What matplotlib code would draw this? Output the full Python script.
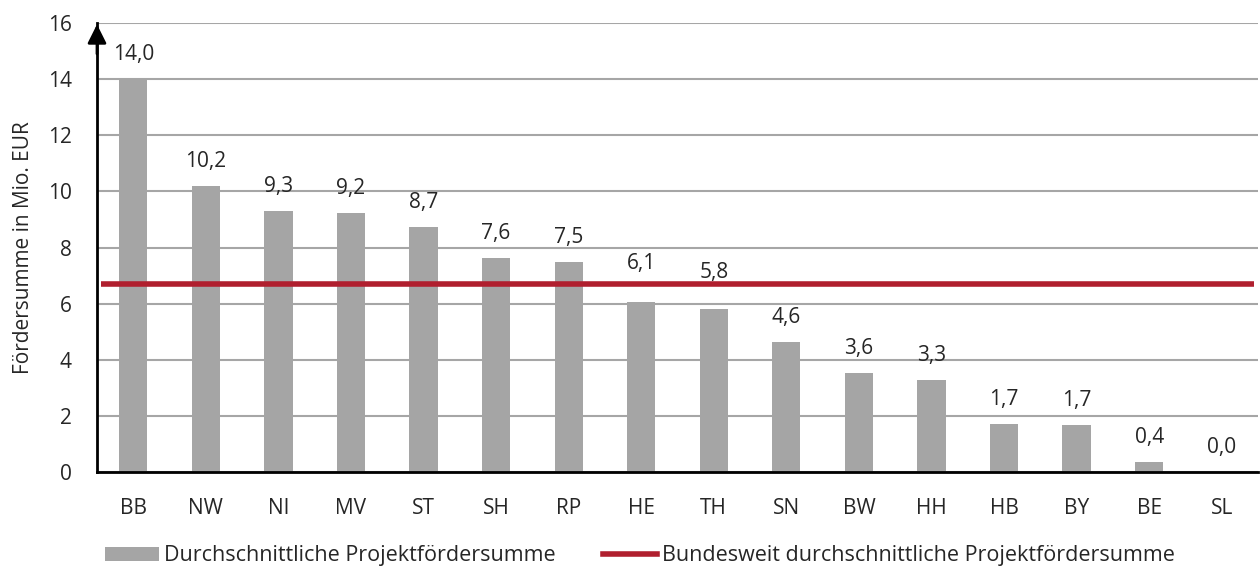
import matplotlib
matplotlib.use("Agg")
import matplotlib.pyplot as plt
from matplotlib.patches import Patch
from matplotlib.lines import Line2D

categories = ["BB", "NW", "NI", "MV", "ST", "SH", "RP", "HE", "TH", "SN", "BW", "HH", "HB", "BY", "BE", "SL"]
values = [14.0, 10.19, 9.3, 9.23, 8.73, 7.63, 7.48, 6.06, 5.81, 4.63, 3.53, 3.28, 1.71, 1.67, 0.36, 0.0]
labels = ["14,0", "10,2", "9,3", "9,2", "8,7", "7,6", "7,5", "6,1", "5,8", "4,6", "3,6", "3,3", "1,7", "1,7", "0,4", "0,0"]
mean_value = 6.69
yticks = [0, 2, 4, 6, 8, 10, 12, 14, 16]

plt.rcParams['font.family'] = ['Open Sans', 'DejaVu Sans']
TXT = '#262626'
FS = 15

fig = plt.figure(figsize=(12.6, 5.74), dpi=100)
ax = fig.add_axes([97/1260, 1 - 472/574, (1258-97)/1260, (472-23)/574])

x = list(range(len(categories)))
ax.bar(x, values, width=0.39, color='#a5a5a5', zorder=2)
ax.plot([-0.45, len(categories) - 0.55], [mean_value, mean_value], color='#b01f2e', lw=4, zorder=3, solid_capstyle='butt')

# labels lifted clear of the average line (as in the original)
extra_lift = {"HE": 10, "TH": 9}
for xi, v, lab, cat in zip(x, values, labels, categories):
    ax.annotate(lab, (xi, v), xytext=(0, 13.5 + extra_lift.get(cat, 0)), textcoords='offset points',
                ha='center', va='baseline', fontsize=FS, color=TXT, zorder=4)

ax.set_xlim(-0.5, len(categories) - 0.5)
ax.set_ylim(0, 16)
ax.set_yticks(yticks)
ax.set_yticklabels([str(t) for t in yticks], fontsize=FS, color=TXT)
ax.set_xticks(x)
ax.set_xticklabels(categories, fontsize=FS, color=TXT)
ax.tick_params(axis='both', length=0)
ax.tick_params(axis='x', pad=19)
ax.tick_params(axis='y', pad=18)
ax.grid(axis='y', color='#a6a6a6', lw=1.5, zorder=0)
ax.set_axisbelow(True)
for s in ['top', 'right']:
    ax.spines[s].set_visible(False)
ax.spines['left'].set_linewidth(2)
ax.spines['bottom'].set_linewidth(2)
ax.spines['left'].set_color('black')
ax.spines['bottom'].set_color('black')
ax.annotate('', xy=(-0.5, 16.05), xytext=(-0.5, 14.8),
            arrowprops=dict(arrowstyle='-|>,head_length=0.6,head_width=0.3', color='black', lw=2, mutation_scale=19),
            annotation_clip=False, zorder=5)

ax.set_ylabel('Fördersumme in Mio. EUR', fontsize=FS, color=TXT, labelpad=10)

handles = [Patch(facecolor='#a5a5a5', edgecolor='none'),
           Line2D([0], [0], color='#b01f2e', lw=4)]
leg = fig.legend(handles, ['Durchschnittliche Projektfördersumme', 'Bundesweit durchschnittliche Projektfördersumme'],
                 loc='center', bbox_to_anchor=(640/1260, 1 - 556/574), ncol=2, frameon=False,
                 fontsize=15.5, handlelength=2.5, handleheight=0.65, columnspacing=2.2, handletextpad=0.25)
for t in leg.get_texts():
    t.set_color(TXT)

fig.savefig('out.png', dpi=100)
